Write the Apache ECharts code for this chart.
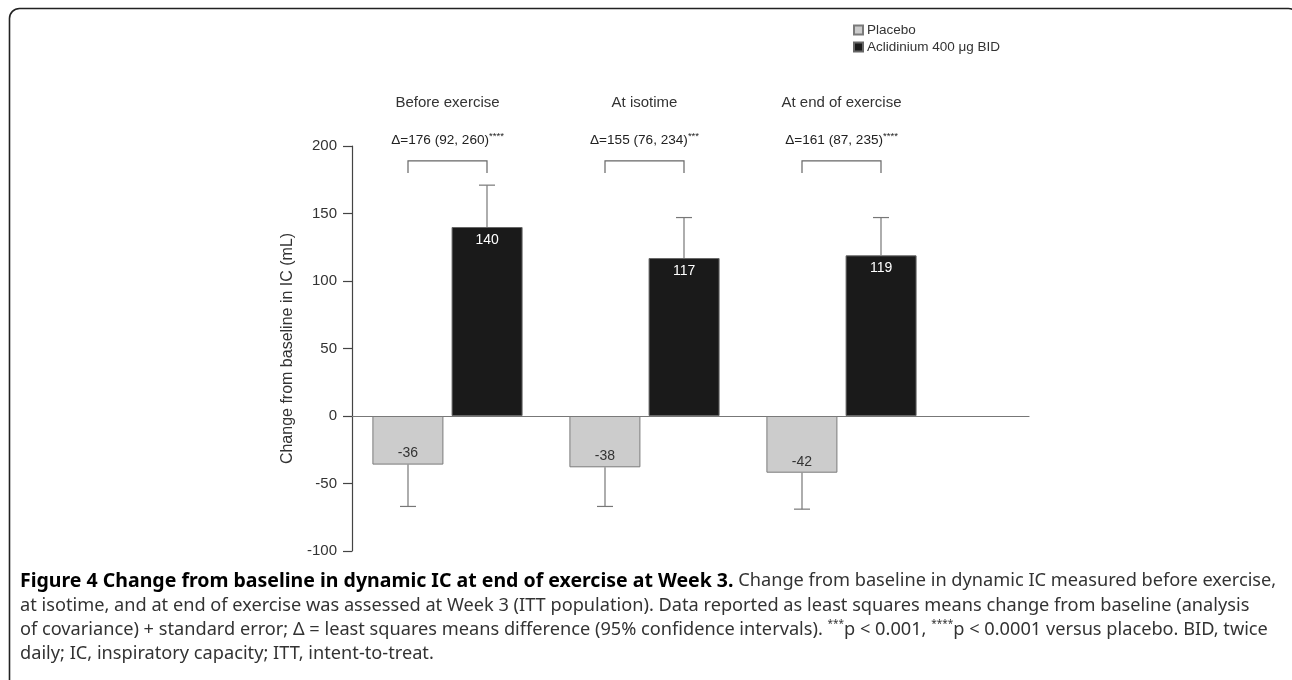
<!DOCTYPE html>
<html><head><meta charset="utf-8">
<script src="https://cdn.jsdelivr.net/npm/echarts@6/dist/echarts.min.js"></script>
<style>html,body{margin:0;padding:0;background:#fff}#c{width:1292px;height:680px}</style>
</head><body><div id="c"></div>
<script>
// ---- data ----
const categories = ['Before exercise', 'At isotime', 'At end of exercise'];
const seriesNames = ['Placebo', 'Aclidinium 400 μg BID'];
const placebo = [-36, -38, -42];
const aclidinium = [140, 117, 119];
const placeboErrEnd = [-67, -67, -69];      // mean - SE
const aclidiniumErrEnd = [171, 147, 147];   // mean + SE
const deltaText = ['Δ=176 (92, 260)', 'Δ=155 (76, 234)', 'Δ=161 (87, 235)'];
const deltaStars = ['****', '***', '****'];
const bracketTop = [189, 189, 189];
const bracketLeg = [180, 180, 180];
const yMin = -100, yMax = 200, yStep = 50;
const yAxisName = 'Change from baseline in IC (mL)';

const FONT = 'Liberation Sans';
const CAP_FONT = 'Noto Sans';
const capLines = [
  '{b|Figure 4 Change from baseline in dynamic IC at end of exercise at Week 3.}{r| Change from baseline in dynamic IC measured before exercise,}',
  '{r|at isotime, and at end of exercise was assessed at Week 3 (ITT population). Data reported as least squares means change from baseline (analysis}',
  '{r|of covariance) + standard error; Δ = least squares means difference (95% confidence intervals). }{s|***}{r|p < 0.001, }{s|****}{r|p < 0.0001 versus placebo. BID, twice}',
  '{r|daily; IC, inspiratory capacity; ITT, intent-to-treat.}'
];
const capRich = {
  b: {fontFamily: CAP_FONT, fontWeight: 'bold', fontSize: 19.5, fill: '#000', lineHeight: 22},
  r: {fontFamily: CAP_FONT, fontSize: 18.2, fill: '#333', lineHeight: 22},
  s: {fontFamily: CAP_FONT, fontSize: 10, fill: '#333', lineHeight: 22, verticalAlign: 'top'}
};
const capY = [581, 606, 630, 654];

const chart = echarts.init(document.getElementById('c'));
const customData = categories.map((c, i) => [i, placebo[i], placeboErrEnd[i], aclidinium[i], aclidiniumErrEnd[i], bracketTop[i], bracketLeg[i]]);

const HALF = 39.5; // half distance between bar centres in a group (px)
const CAP = 8;

chart.setOption({
  animation: false,
  backgroundColor: '#fff',
  textStyle: {fontFamily: FONT},
  legend: {
    data: seriesNames, orient: 'vertical', left: 848, top: 18,
    itemWidth: 9, itemHeight: 9, itemGap: 3, icon: 'rect',
    textStyle: {fontFamily: FONT, fontSize: 13.5, color: '#333', padding: [0, 0, 0, -1]}
  },
  grid: [
    {left: 349, right: 352, top: 146, bottom: 129},
    {left: 352, right: 263, top: 146, bottom: 129}
  ],
  xAxis: [
    {type: 'category', gridIndex: 0, data: categories, position: 'top',
     axisLine: {show: false}, axisTick: {show: false},
     axisLabel: {margin: 36, fontFamily: FONT, fontSize: 15, color: '#333'}},
    {type: 'value', gridIndex: 1, min: 0, max: 1, axisLine: {onZero: true, lineStyle: {color: '#777', width: 1.2}},
     axisTick: {show: false}, axisLabel: {show: false}, splitLine: {show: false}}
  ],
  yAxis: [
    {type: 'value', gridIndex: 0, min: yMin, max: yMax, interval: yStep, show: false},
    {type: 'value', gridIndex: 1, min: yMin, max: yMax, interval: yStep,
     name: yAxisName, nameLocation: 'middle', nameGap: 55,
     nameTextStyle: {fontFamily: FONT, fontSize: 16, color: '#333'},
     axisLine: {show: true, lineStyle: {color: '#444', width: 1.2}},
     axisTick: {show: true, length: 9, lineStyle: {color: '#444', width: 1.2}},
     axisLabel: {margin: 15, fontFamily: FONT, fontSize: 15, color: '#333'},
     splitLine: {show: false}}
  ],
  series: [
    {name: seriesNames[0], type: 'bar', xAxisIndex: 0, yAxisIndex: 0, data: placebo,
     barWidth: 71, barGap: '11.5%',
     itemStyle: {color: '#cccccc', borderColor: '#7a7a7a', borderWidth: 1},
     label: {show: true, position: 'insideBottom', distance: 4, color: '#333', fontFamily: FONT, fontSize: 14}},
    {name: seriesNames[1], type: 'bar', xAxisIndex: 0, yAxisIndex: 0, data: aclidinium,
     barWidth: 71,
     itemStyle: {color: '#1a1a1a', borderColor: '#666', borderWidth: 1},
     label: {show: true, position: 'insideTop', distance: 6, color: '#fff', fontFamily: FONT, fontSize: 14}},
    {type: 'custom', xAxisIndex: 0, yAxisIndex: 0, data: customData, z: 5, silent: true,
     renderItem: function (params, api) {
       const i = api.value(0);
       const cx = api.coord([i, 0])[0];
       const px = cx - HALF, ax = cx + HALF;
       const y = v => api.coord([i, v])[1];
       const ls = {stroke: '#777', lineWidth: 1.2};
       const bs = {stroke: '#666', lineWidth: 1.2, fill: null};
       const i2 = params.dataIndex;
       return {type: 'group', children: [
         {type: 'line', shape: {x1: px, y1: y(api.value(1)), x2: px, y2: y(api.value(2))}, style: ls},
         {type: 'line', shape: {x1: px - CAP, y1: y(api.value(2)), x2: px + CAP, y2: y(api.value(2))}, style: ls},
         {type: 'line', shape: {x1: ax, y1: y(api.value(3)), x2: ax, y2: y(api.value(4))}, style: ls},
         {type: 'line', shape: {x1: ax - CAP, y1: y(api.value(4)), x2: ax + CAP, y2: y(api.value(4))}, style: ls},
         {type: 'polyline', shape: {points: [[px, y(api.value(6))], [px, y(api.value(5))], [ax, y(api.value(5))], [ax, y(api.value(6))]]}, style: bs},
         {type: 'text', x: cx, y: y(api.value(5)) - 21, style: {
           text: '{d|' + deltaText[i2] + '}{s|' + deltaStars[i2] + '}',
           align: 'center', verticalAlign: 'middle',
           rich: {
             d: {fontFamily: FONT, fontSize: 13.6, fill: '#222', lineHeight: 16},
             s: {fontFamily: FONT, fontSize: 9.5, fill: '#222', lineHeight: 16, verticalAlign: 'top'}
           }}}
       ]};
     }}
  ],
  graphic: [
    {type: 'rect', shape: {x: 9.5, y: 8.5, width: 1289, height: 700, r: 10}, style: {fill: 'none', stroke: '#222', lineWidth: 1.6}, z: 100},
    ...capLines.map((t, k) => ({type: 'text', x: 20, y: capY[k], style: {text: t, rich: capRich, verticalAlign: 'middle', align: 'left'}}))
  ]
});
</script></body></html>
